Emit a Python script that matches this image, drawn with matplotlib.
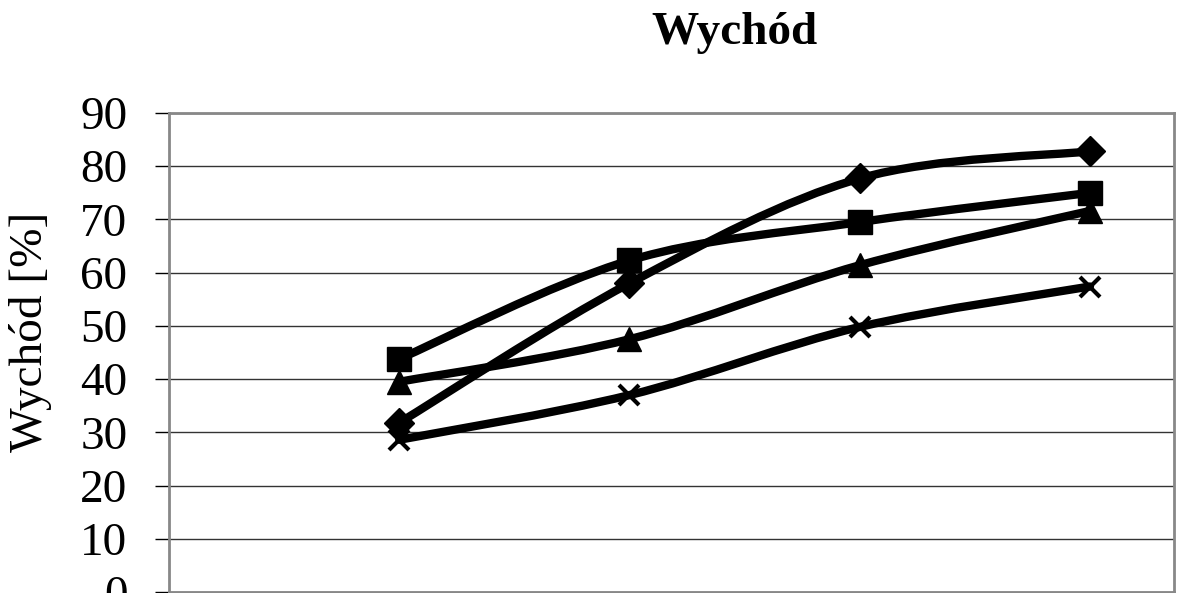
import numpy as np
import matplotlib.pyplot as plt
from matplotlib.path import Path
from matplotlib.patches import PathPatch

plt.rcParams['font.family'] = ['Liberation Serif', 'DejaVu Serif']

# data
x_pos = [1, 2, 3, 4]
diamond = [31.8, 58.0, 77.7, 82.8]
square = [43.8, 62.3, 69.5, 75.0]
triangle = [39.5, 47.5, 61.4, 71.6]
cross = [28.6, 37.0, 49.8, 57.4]
y_ticks = [0, 10, 20, 30, 40, 50, 60, 70, 80, 90]


def smooth_path(xs, ys):
    # excel-like smoothed line: bezier segments, catmull-rom control points
    pts = np.column_stack([xs, ys]).astype(float)
    n = len(pts)
    verts = [pts[0]]
    codes = [Path.MOVETO]
    for i in range(n - 1):
        p0 = pts[i - 1] if i > 0 else pts[i]
        p1 = pts[i]
        p2 = pts[i + 1]
        p3 = pts[i + 2] if i + 2 < n else pts[i + 1]
        c1 = p1 + (p2 - p0) / 6.0
        c2 = p2 - (p3 - p1) / 6.0
        verts += [c1, c2, p2]
        codes += [Path.CURVE4] * 3
    return Path(verts, codes)


fig = plt.figure(figsize=(11.78, 5.93), dpi=100)
ax = fig.add_axes([169 / 1178, 1 / 593, (1174 - 169) / 1178, 479 / 593])

series = [(diamond, 'D', 15), (square, 's', 17), (triangle, '^', 17), (cross, 'x', 14)]
for ys, m, ms in series:
    ax.add_patch(PathPatch(smooth_path(x_pos, ys), facecolor='none',
                           edgecolor='black', lw=6, capstyle='round', zorder=3))
    ax.plot(x_pos, ys, linestyle='none', marker=m, markersize=ms,
            color='black', markeredgewidth=3 if m == 'x' else 1, zorder=4)

ax.set_xlim(0, 4.365)
ax.set_ylim(0, 90)
ax.set_yticks(y_ticks)
ax.set_xticks([])
ax.tick_params(axis='y', labelsize=34, length=10, width=1, pad=20, direction='out')
ax.yaxis.grid(True, color='#333333', lw=1)
ax.set_axisbelow(True)
for s in ax.spines.values():
    s.set_color('#888888')
    s.set_linewidth(2)

fig.text(735 / 1178, 1 - 33 / 593, 'Wychód', fontsize=34, fontweight='bold',
         ha='center', va='center')
fig.text(31 / 1178, 1 - 332 / 593, 'Wychód [%]', fontsize=34, rotation=90,
         ha='center', va='center')

fig.savefig('out.png', dpi=100)
